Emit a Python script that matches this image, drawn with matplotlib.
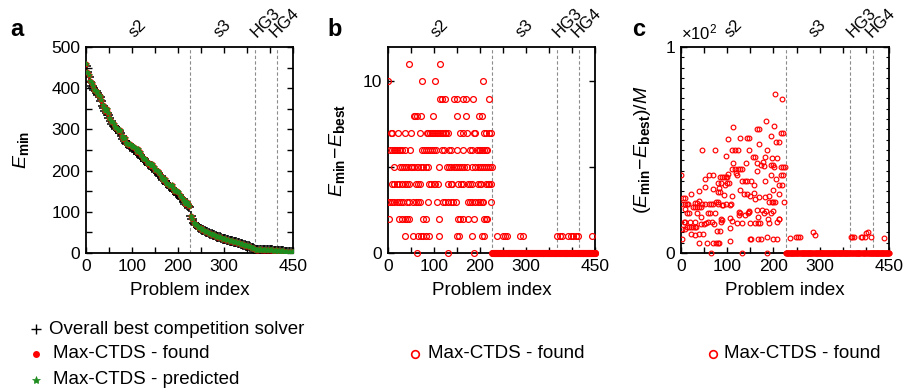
import numpy as np
import matplotlib
matplotlib.use('Agg')
import matplotlib.pyplot as plt
from matplotlib.lines import Line2D
import matplotlib.transforms as mtransforms

plt.rcParams['font.family'] = ['Liberation Sans', 'DejaVu Sans']
plt.rcParams['mathtext.fontset'] = 'custom'
plt.rcParams['mathtext.rm'] = 'Liberation Sans'
plt.rcParams['mathtext.it'] = 'Liberation Sans:italic'
plt.rcParams['mathtext.bf'] = 'Liberation Sans:bold'

# ---------------- data ----------------
groups = ['s2', 's3', 'HG3', 'HG4']
group_edges = [0, 226.5, 366.5, 414.5, 450]
n_problems = 451

# Panel a: best known E_min, sampled every 3rd problem index (0, 3, ..., 450)
emin_best = [455, 440, 426, 415, 406, 400, 396, 392, 388, 384, 378, 368, 358, 352, 345, 339,
             334, 328, 321, 314, 309, 305, 302, 299, 296, 292, 284, 277, 272, 268, 264, 261,
             258, 256, 254, 251, 248, 245, 241, 238, 234, 231, 228, 224, 220, 217, 214, 211,
             208, 205, 201, 197, 194, 190, 186, 182, 178, 174, 170, 167, 164, 161, 157, 154,
             151, 147, 144, 141, 137, 134, 130, 125, 120, 117, 114, 111,
             91, 82, 74, 70, 67, 64, 61, 59, 57, 55, 53, 51, 50, 48, 47, 45, 44, 43, 41, 40,
             39, 38, 37, 35, 34, 33, 32, 31, 30, 29, 28, 27, 27, 26, 25, 24, 23, 22, 20, 19,
             18, 17, 16, 14, 12, 11, 9,
             8, 8, 8, 8, 8, 8, 8, 7, 7, 7, 7, 7, 7, 6, 6, 6,
             5, 4, 4, 4, 4, 3, 3, 3, 3, 2, 2, 2]
sample_step = 3

# Panel b: problem indices at each value of E_min - E_best
lvl11 = [45, 114]
lvl10 = [0, 74, 102, 206]
lvl9 = [113, 118, 125, 144, 149, 164, 169, 184, 220]
lvl8 = [56, 59, 62, 72, 97, 149, 170, 198, 204]
lvl7 = [6, 9, 22, 38, 50, 70, 84, 88, 91, 95, 98, 102, 106, 109, 113, 117, 120, 124, 127, 131,
        157, 162, 171, 186, 189, 209, 214, 219, 224]
lvl6 = [4, 8, 12, 15, 19, 23, 26, 30, 38, 48, 75, 79, 83, 88, 92, 96, 101, 105, 117, 121, 133,
        137, 149, 164, 178, 183, 193, 198, 201, 205, 209, 212, 215]
lvl5 = [14, 26, 31, 35, 40, 44, 49, 53, 57, 62, 66, 72, 77, 82, 88, 110, 129, 133, 138, 143,
        147, 152, 156, 160, 166, 171, 183, 189, 195, 200, 205, 209, 213, 218, 222, 226]
lvl4 = [9, 14, 19, 24, 30, 36, 41, 46, 61, 65, 70, 89, 94, 99, 102, 108, 131, 136, 140, 153,
        159, 164, 173, 178, 183, 196, 200, 202, 213, 218, 220, 224]
lvl3 = [0, 4, 9, 14, 19, 24, 28, 33, 41, 46, 55, 60, 66, 70, 88, 106, 120, 125, 131, 137, 142,
        147, 175, 179, 183, 189, 195, 199, 204, 207, 225]
lvl2 = [2, 24, 30, 36, 41, 46, 77, 82, 110, 152, 157, 162, 173, 188, 209, 213, 215]
lvl1 = [38, 55, 66, 72, 77, 82, 89, 110, 149, 154, 183, 205, 209, 236, 249, 254, 258, 288, 293,
        368, 374, 378, 392, 397, 403, 409, 414, 443]
s2_zero_idx = [63, 131, 186]

# Panel c: (E_min - E_best)/M  (x 10^2) for non-zero problems
c_idx = [1, 183, 113, 164, 168, 102, 127, 143, 147, 169, 45, 73, 111, 116, 124, 148, 187, 97,
         156, 161, 181, 113, 141, 164, 177, 111, 117, 123, 128, 131, 174, 179, 102, 119, 122,
         60, 51, 69, 84, 88, 92, 97, 100, 164, 131, 138, 142, 151, 159, 182, 79, 87, 95, 99, 103,
         51, 40, 70, 83, 79, 84, 94, 110, 128, 137, 143, 159, 149, 169, 181, 191, 161, 191,
         4, 8, 0, 8, 12, 15, 22, 30, 35, 38, 45, 53, 60, 65, 69, 26, 31, 35, 38, 43, 75, 79, 80,
         88, 91, 97, 105, 109, 125, 128, 145, 148, 165, 183, 175, 179, 12, 17, 8, 35, 58, 63, 73,
         87, 107, 110, 138, 125, 147, 167, 188, 6, 9, 2, 8, 12, 19, 30, 43, 17, 22, 26, 30, 33,
         44, 50, 58, 54, 66, 71, 87, 89, 122, 131, 149, 161, 167, 171, 190, 22, 31, 39, 48,
         77, 84, 107, 2, 40, 57, 69, 75, 79, 82, 107, 149, 152, 167, 172, 185,
         203, 219, 201, 194, 216, 221, 206, 211, 196, 208, 198, 201, 216, 220, 224, 194, 216,
         220, 206, 213, 218, 198, 196, 200, 203, 223, 208, 211, 213, 198, 207, 212, 194, 194,
         199, 236, 249, 254, 257, 286, 290, 367, 371, 375, 389, 392, 398, 400, 404, 411, 439]
c_val = [0.38, 0.64, 0.61, 0.60, 0.60, 0.554, 0.56, 0.56, 0.56, 0.53, 0.50, 0.50, 0.50, 0.50,
         0.50, 0.50, 0.50, 0.47, 0.465, 0.465, 0.465, 0.435, 0.435, 0.435, 0.44, 0.41, 0.41,
         0.41, 0.41, 0.41, 0.425, 0.42, 0.385, 0.39, 0.38, 0.38, 0.36, 0.38, 0.37, 0.37, 0.37,
         0.37, 0.37, 0.40, 0.35, 0.35, 0.35, 0.35, 0.33, 0.35, 0.34, 0.34, 0.33, 0.34, 0.34,
         0.32, 0.30, 0.31, 0.315, 0.295, 0.295, 0.28, 0.277, 0.306, 0.285, 0.285, 0.29, 0.277,
         0.27, 0.27, 0.277, 0.264, 0.248,
         0.267, 0.267, 0.237, 0.237, 0.237, 0.237, 0.288, 0.245, 0.245, 0.253, 0.24, 0.24, 0.24,
         0.24, 0.24, 0.224, 0.224, 0.224, 0.224, 0.224, 0.248, 0.248, 0.238,
         0.233, 0.233, 0.24, 0.233, 0.24, 0.20, 0.193, 0.196, 0.20, 0.208, 0.203, 0.21, 0.196,
         0.196, 0.196, 0.213, 0.196, 0.196, 0.196, 0.196,
         0.167, 0.17, 0.153, 0.185, 0.184, 0.205, 0.177, 0.164, 0.15, 0.15, 0.116, 0.116, 0.124,
         0.15, 0.15, 0.177, 0.127, 0.127, 0.127, 0.127, 0.127,
         0.14, 0.14, 0.15, 0.145, 0.15, 0.143, 0.15, 0.16, 0.148, 0.148, 0.145, 0.145, 0.148,
         0.148, 0.148, 0.09, 0.085, 0.09, 0.09,
         0.108, 0.108, 0.12, 0.068, 0.05, 0.048, 0.05, 0.048, 0.048, 0.05, 0.06, 0.068, 0.068,
         0.068, 0.07, 0.08,
         0.771, 0.749, 0.615, 0.57, 0.583, 0.583, 0.538, 0.538, 0.462, 0.462, 0.427, 0.417,
         0.417, 0.417, 0.417, 0.38, 0.38, 0.38, 0.357, 0.33, 0.33, 0.306, 0.248, 0.248, 0.248,
         0.248, 0.15, 0.164, 0.164, 0.07, 0.07, 0.285, 0.425, 0.196, 0.205,
         0.072, 0.079, 0.079, 0.079, 0.10, 0.089, 0.08, 0.08, 0.08, 0.08, 0.08, 0.08, 0.097,
         0.10, 0.08, 0.071]
c_s2_zero_idx = [64, 131, 185]

# ---------------- derived tables ----------------
levels = {11: lvl11, 10: lvl10, 9: lvl9, 8: lvl8, 7: lvl7, 6: lvl6, 5: lvl5, 4: lvl4,
          3: lvl3, 2: lvl2, 1: lvl1}
diff = np.zeros(n_problems)
b_x, b_y = [], []
for lv, idxs in levels.items():
    for i in idxs:
        diff[i] = lv
        b_x.append(i)
        b_y.append(lv)
rest_start = int(np.ceil(group_edges[1]))
zero_b = [i for i in range(rest_start, n_problems) if i not in lvl1] + s2_zero_idx
nz_c = set(i for i in c_idx if i >= rest_start)
zero_c = [i for i in range(rest_start, n_problems) if i not in nz_c] + c_s2_zero_idx

idx_a = np.arange(len(emin_best)) * sample_step
best_a = np.array(emin_best, dtype=float)
found_a = best_a + diff[idx_a]

# ---------------- figure ----------------
W, H = 904, 392
fig = plt.figure(figsize=(W / 100, H / 100), dpi=100)
red = '#ff0000'
green = '#1e8c1e'

def px_axes(l, r, t, b):
    return fig.add_axes([l / W, 1 - b / H, (r - l) / W, (b - t) / H])

axa = px_axes(86, 293, 47, 253)
axb = px_axes(388, 595, 47, 253)
axc = px_axes(681, 889, 47, 253)

xt = list(range(0, 451, 50))
xtl = [str(v) if v in (0, 100, 200, 300, 450) else '' for v in xt]

for ax in (axa, axb, axc):
    ax.set_xlim(0, 450)
    ax.set_xticks(xt)
    ax.set_xticklabels(xtl)
    ax.tick_params(direction='in', top=True, right=True, length=4, width=1,
                   labelsize=12.5, pad=4)
    ax.tick_params(which='minor', direction='in', left=True, right=True, length=2.5, width=0.8)
    for sp in ax.spines.values():
        sp.set_linewidth(1.3)
    for e in group_edges[1:-1]:
        ax.axvline(e, color='#8c8c8c', lw=0.8, ls=(0, (3, 2)), zorder=1)
    ax.set_xlabel('Problem index', fontsize=13.5, labelpad=6)
    trans = mtransforms.blended_transform_factory(ax.transData, ax.transAxes)
    for g, a0, a1 in zip(groups, group_edges[:-1], group_edges[1:]):
        ax.text((a0 + a1) / 2, 1.035, g, transform=trans, rotation=45, ha='center',
                va='bottom', fontsize=12)

# panel a
axa.plot(idx_a, best_a, ls='none', marker='+', ms=6.5, mew=1.1, color='black', zorder=3)
axa.plot(idx_a, found_a, ls='none', marker='o', ms=4.2, mew=0, color=red, zorder=4)
axa.plot(idx_a, found_a, ls='none', marker='*', ms=4.2, mew=0.6, color=green, zorder=5)
axa.set_ylim(0, 500)
yt = list(range(0, 501, 50))
axa.set_yticks(yt)
axa.set_yticklabels([str(v) if v % 100 == 0 else '' for v in yt])
axa.set_ylabel(r'$\mathit{E}_{\mathbf{min}}$', fontsize=14)
axa.yaxis.set_label_coords(-0.265, 0.5)

# panel b
axb.plot(b_x, b_y, ls='none', marker='o', ms=4.2, mfc='none', mec=red, mew=0.9, zorder=3)
axb.plot(zero_b, np.zeros(len(zero_b)), ls='none', marker='o', ms=4.2, mfc='none', mec=red,
         mew=0.9, zorder=3, clip_on=False)
axb.set_ylim(0, 12)
axb.set_yticks([0, 5, 10])
axb.set_yticklabels(['0', '', '10'])
axb.set_ylabel(r'$\mathit{E}_{\mathbf{min}}\!-\!\mathit{E}_{\mathbf{best}}$', fontsize=14)
axb.yaxis.set_label_coords(-0.20, 0.5)

# panel c
axc.plot(c_idx, c_val, ls='none', marker='o', ms=3.4, mfc='none', mec=red, mew=0.85, zorder=3)
axc.plot(zero_c, np.zeros(len(zero_c)), ls='none', marker='o', ms=3.4, mfc='none', mec=red,
         mew=0.85, zorder=3, clip_on=False)
axc.set_ylim(0, 1)
axc.set_yticks([0, 1])
axc.set_yticklabels(['0', '1'])
axc.set_yticks(np.arange(0.05, 1.0, 0.05), minor=True)
axc.set_ylabel(r'$(\mathit{E}_{\mathbf{min}}\!-\!\mathit{E}_{\mathbf{best}})/\mathit{M}$',
               fontsize=14)
axc.yaxis.set_label_coords(-0.135, 0.5)
axc.text(0.0, 1.07, r'$\times$10$^2$', transform=axc.transAxes, fontsize=12,
         ha='left', va='center')

# panel letters
for x, lab in ((10, 'a'), (327, 'b'), (632, 'c')):
    fig.text(x / W, 1 - 30 / H, lab, fontsize=17, fontweight='bold', va='center', ha='left')

# legends
def legend_entry(xm, xt_, y, text, **mk):
    fig.add_artist(Line2D([xm / W], [1 - y / H], transform=fig.transFigure, ls='none', **mk))
    fig.text(xt_ / W, 1 - y / H, text, fontsize=13.5, va='center', ha='left')

legend_entry(36, 49, 329, 'Overall best competition solver', marker='+', ms=7, mew=1.0,
             color='black')
legend_entry(36, 53, 354, 'Max-CTDS - found', marker='o', ms=5, mew=0, color=red)
legend_entry(36, 53, 380, 'Max-CTDS - predicted', marker='*', ms=6, mew=0.5, color=green)
legend_entry(415, 428, 354, 'Max-CTDS - found', marker='o', ms=5.5, mfc='none', mec=red,
             mew=1.2)
legend_entry(713, 724, 354, 'Max-CTDS - found', marker='o', ms=5.5, mfc='none', mec=red,
             mew=1.2)

fig.savefig('out.png', dpi=100)
